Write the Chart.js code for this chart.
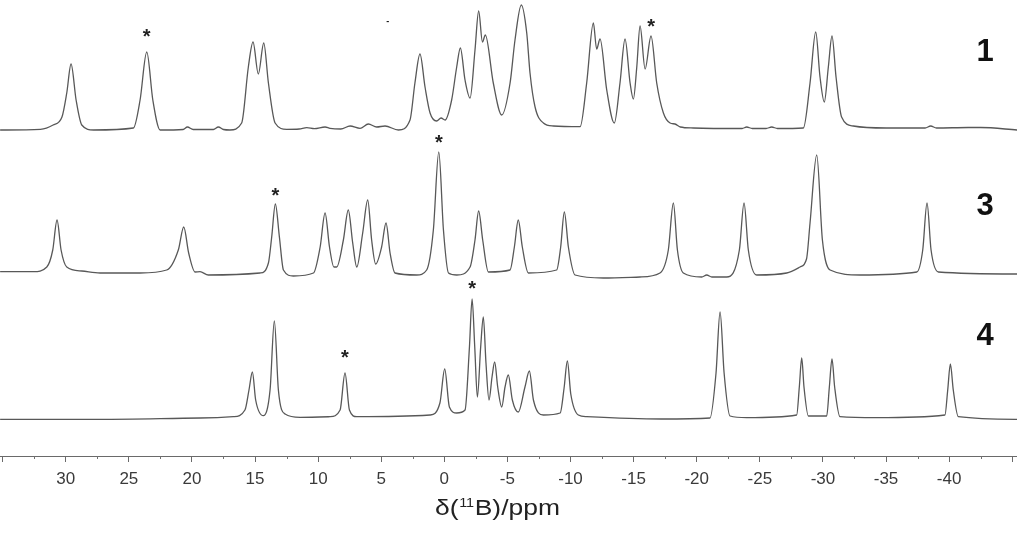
<!DOCTYPE html>
<html>
<head>
<meta charset="utf-8">
<script src="https://cdn.jsdelivr.net/npm/chart.js@4.4.1/dist/chart.umd.min.js"></script>
<style>
  html, body { margin: 0; padding: 0; background: #fff; }
  #wrap { width: 1017px; height: 534px; }
</style>
</head>
<body>
<div id="wrap"><canvas id="nmr"></canvas></div>
<script>
// ---- spectra: shift (ppm) and height above each trace baseline ----
const spec1Ppm = [35.2, 32.0, 31.0, 30.3, 29.92, 29.58, 29.18, 28.73, 27.8, 24.64, 24.11, 23.58, 23.10, 22.52,
  20.7, 20.36, 19.9, 18.3, 17.91, 17.5, 16.99, 16.06, 15.53, 15.16, 14.74, 14.31, 13.94, 13.41, 12.49,
  11.5, 10.9, 10.3, 9.45, 9.06, 8.2, 7.47, 6.68, 6.02, 5.36, 4.70, 3.64, 2.72, 2.33, 1.93, 1.53, 1.13,
  0.61, 0.26, -0.06, -0.58, -0.98, -1.27, -1.64, -2.04, -2.43, -2.72, -3.02, -3.25, -3.88, -4.55, -5.21,
  -5.60, -6.10, -6.53, -6.79, -7.19, -7.85, -8.64, -10.76, -11.28, -11.81, -12.07, -12.34, -12.87,
  -13.47, -13.92, -14.32, -14.72, -14.98, -15.25, -15.51, -15.91, -16.38, -16.83, -17.36, -17.89,
  -18.28, -18.7, -19.73, -23.6, -23.96, -24.4, -25.5, -25.94, -26.4, -28.45, -28.98, -29.43, -29.77,
  -30.11, -30.43, -30.72, -31.04, -31.48, -32.41, -35.0, -38.1, -38.54, -39.0, -41.5, -42.5, -45.4];
const spec1Int = [0, 0.7, 5, 13, 37, 66, 30, 5, 0, 2, 30, 78, 30, 0,
  0.5, 3, 0.5, 0.5, 3, 0.5, 0, 7, 63, 88, 56, 87, 47, 7, 0.7,
  1, 2.3, 1.3, 3, 1.7, 1, 4, 1.7, 6, 3, 4, 0, 10, 47, 76, 43, 17,
  9, 12, 10, 30, 63, 82, 50, 32, 80, 119, 88, 95, 47, 15, 47,
  90, 125, 97, 57, 23, 7, 4, 3.3, 47, 107, 81, 91, 40,
  7, 47, 91, 47, 31, 63, 104, 61, 94, 47, 17, 7,
  6, 3, 2, 1.5, 3, 1.5, 1.5, 3, 1.5, 2, 47, 98, 53,
  28, 63, 94, 53, 13, 4, 2, 2, 4, 2, 2.5, 2.5, 0];

const spec3Ppm = [35.2, 32.56, 31.5, 31.03, 30.69, 30.37, 29.92, 28.73, 27.28, 24.11, 22.0, 21.08, 20.65,
  20.26, 19.75, 19.36, 18.70, 14.6, 13.94, 13.68, 13.39, 13.07, 12.75, 11.96, 10.37, 9.84, 9.45, 9.1,
  8.75, 8.53, 8.0, 7.61, 7.26, 6.94, 6.47, 6.07, 5.76, 5.44, 4.97, 4.62, 4.30, 3.91, 2.19, 1.40, 0.87,
  0.44, 0.07, -0.33, -0.99, -2.04, -2.43, -2.72, -3.04, -3.49, -5.21, -5.55, -5.86, -6.18, -6.66, -8.9,
  -9.22, -9.51, -9.83, -10.36, -12.6, -15.5, -17.09, -17.75, -18.15, -18.47, -18.94, -20.4, -20.79,
  -21.2, -22.38, -23.38, -23.75, -24.09, -24.75, -27.13, -28.19, -28.7, -28.98, -29.51, -29.96, -30.57,
  -32.95, -37.44, -37.91, -38.25, -38.57, -39.15, -45.4];
const spec3Int = [1.3, 1.3, 6, 23, 53, 23, 6, 2, 0, 0, 3, 23, 46,
  20, 1, 1.3, -2, 0, 10, 36, 69, 36, 3, -3, 0, 26, 60, 26,
  6, 6, 33, 63, 30, 6, 40, 73, 33, 9, 26, 50, 20, 0, -2, 3, 43,
  121, 43, 0, -2, 6, 33, 62, 33, 1, 3, 26, 53, 26, 0, 3,
  26, 61, 26, -2, -5, -4, 0, 23, 70, 23, 0, -4, -2,
  -4, -4, 23, 70, 23, -2, 0, 6, 14, 50, 118, 33, 3,
  -2, 1, 23, 70, 23, 1, -1];

const spec4Ppm = [35.2, 27.28, 19.36, 16.72, 15.80, 15.48, 15.21, 14.95, 14.34, 13.81, 13.47, 13.15, 12.62,
  11.43, 9.06, 8.26, 7.87, 7.52, 6.94, 1.13, 0.35, -0.03, -0.40, -0.98, -1.64, -1.99, -2.20, -2.41,
  -2.62, -2.88, -3.09, -3.30, -3.54, -3.78, -3.99, -4.23, -4.55, -4.81, -5.07, -5.39, -5.86, -6.39,
  -6.74, -7.06, -7.85, -9.18, -9.49, -9.75, -10.02, -10.62, -11.28, -17.2, -21.05, -21.53, -21.85,
  -22.17, -22.64, -23.96, -27.92, -28.13, -28.32, -28.5, -28.85, -30.3, -30.51, -30.72, -30.93, -31.35,
  -34.26, -39.67, -39.89, -40.1, -40.33, -40.73, -45.4];
const spec4Int = [-1.3, -1.3, 0, 1.3, 8, 28, 46, 18, 2.3, 28, 97, 28, 4,
  0.7, 1.3, 8, 45, 8, 1.3, 3, 15, 49, 11, 5, 8, 71, 119, 71,
  21, 71, 101, 55, 18, 41, 56, 31, 11, 31, 43, 18, 6, 31,
  47, 18, 3, 5, 30, 57, 24, 3, 1.3, -1, 0, 45, 106,
  45, 2, 0.3, 3, 31, 60, 31, 2, 2, 31, 59, 31, 1.3,
  0.3, 3, 28, 54, 28, 1.3, -1.3];

const traceNames = ['1', '3', '4'];

// asterisks marking peaks (ppm, height in plot units)
const starPpm = [23.58, -16.38, 13.39, 0.44, -2.2, 7.87];
const starVal = [424, 434, 265, 318, 172, 103];

// x axis
const xTicks = { min: -45.38, max: 35.21, step: 2.5 };

// ---- layout ----
const baselines = [326, 183, 38];          // vertical offset of each trace
const nameVal = [405, 251, 121];           // where trace numbers sit
const namePpm = -42.85;
const lineColor = '#585858';

function toPoints(ppm, vals, off) {
    return ppm.map((p, i) => ({ x: p, y: vals[i] + off }));
}

const series = [
    toPoints(spec1Ppm, spec1Int, baselines[0]),
    toPoints(spec3Ppm, spec3Int, baselines[1]),
    toPoints(spec4Ppm, spec4Int, baselines[2])
];

// extra drawing: minor ticks, asterisks, trace numbers, axis title
const decorations = {
    id: 'decorations',
    afterDraw(chart) {
        const { ctx } = chart;
        const x = chart.scales.x;
        const y = chart.scales.y;
        ctx.save();

        // minor ticks (every 2.5 ppm)
        ctx.strokeStyle = '#707070';
        ctx.lineWidth = 1;
        x.ticks.forEach(t => {
            if (Math.abs(t.value % 5) > 0.01) {
                const px = Math.round(x.getPixelForValue(t.value)) + 0.5;
                ctx.beginPath();
                ctx.moveTo(px, y.bottom);
                ctx.lineTo(px, y.bottom + 3);
                ctx.stroke();
            }
        });

        // asterisks
        ctx.fillStyle = '#222';
        ctx.font = 'bold 20px "Liberation Sans", Arial, sans-serif';
        ctx.textAlign = 'center';
        ctx.textBaseline = 'alphabetic';
        starPpm.forEach((p, i) => {
            ctx.fillText('*', x.getPixelForValue(p), y.getPixelForValue(starVal[i]) + 11);
        });

        // trace numbers
        ctx.font = 'bold 31px "Liberation Sans", Arial, sans-serif';
        ctx.fillStyle = '#111';
        ctx.textBaseline = 'middle';
        traceNames.forEach((n, i) => {
            ctx.fillText(n, x.getPixelForValue(namePpm), y.getPixelForValue(nameVal[i]) + 1);
        });

        // tiny stray mark above trace 1
        ctx.font = 'bold 9px "Liberation Sans", Arial, sans-serif';
        ctx.fillText('-', x.getPixelForValue(4.48), y.getPixelForValue(434));

        // axis title  δ(11B)/ppm, slightly wide lettering as in the figure
        const big = '22px "Liberation Sans", Arial, sans-serif';
        const small = '12px "Liberation Sans", Arial, sans-serif';
        ctx.fillStyle = '#222';
        ctx.textAlign = 'left';
        ctx.textBaseline = 'alphabetic';
        ctx.font = big;
        const w1 = ctx.measureText('\u03b4(').width;
        const w3 = ctx.measureText('B)/ppm').width;
        ctx.font = small;
        const w2 = ctx.measureText('11').width + 1;
        const sx = 125 / (w1 + w2 + w3);
        ctx.translate(435, 515);
        ctx.scale(sx, 1);
        ctx.font = big;
        ctx.fillText('\u03b4(', 0, 0);
        ctx.font = small;
        ctx.fillText('11', w1 + 0.5, -8.5);
        ctx.font = big;
        ctx.fillText('B)/ppm', w1 + w2, 0);

        ctx.restore();
    }
};

new Chart(document.getElementById('nmr'), {
    type: 'scatter',
    data: {
        datasets: series.map((pts, i) => ({
            label: traceNames[i],
            data: pts,
            showLine: true,
            borderColor: lineColor,
            borderWidth: 1.3,
            pointRadius: 0,
            cubicInterpolationMode: 'monotone',
            fill: false
        }))
    },
    options: {
        responsive: true,
        maintainAspectRatio: false,
        animation: false,
        layout: { padding: 0 },
        plugins: {
            legend: { display: false },
            tooltip: { enabled: false }
        },
        scales: {
            x: {
                type: 'linear',
                reverse: true,
                min: xTicks.min,
                max: xTicks.max,
                afterFit: s => {
                    s.height = 78;
                    s.paddingLeft = 0;
                    s.paddingRight = 0;
                },
                border: { display: true, color: '#6a6a6a', width: 1 },
                grid: {
                    drawOnChartArea: false,
                    drawTicks: true,
                    tickLength: 6,
                    tickColor: c => (c.tick && Math.abs(c.tick.value % 5) < 0.01) ? '#6a6a6a' : 'rgba(0,0,0,0)'
                },
                ticks: {
                    stepSize: xTicks.step,
                    includeBounds: false,
                    autoSkip: false,
                    maxRotation: 0,
                    padding: 7,
                    color: '#3a3a3a',
                    font: { family: '"Liberation Sans", Arial, sans-serif', size: 17 },
                    callback: v => (Math.abs(v % 5) < 0.01 && v <= 30 && v >= -40) ? String(v) : ''
                }
            },
            y: {
                display: false,
                min: 0,
                max: 456
            }
        }
    },
    plugins: [decorations]
});
</script>
</body>
</html>
